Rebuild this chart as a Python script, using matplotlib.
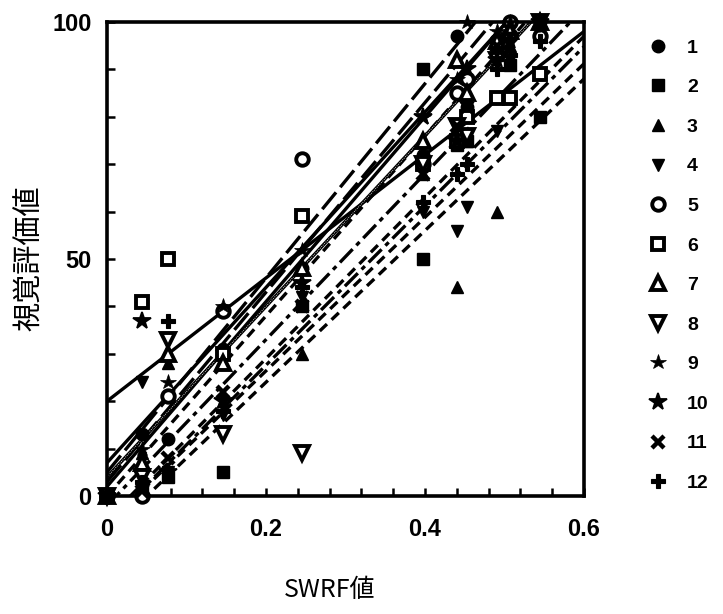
import numpy as np
import matplotlib
matplotlib.use("Agg")
import matplotlib.pyplot as plt
from matplotlib.ticker import MultipleLocator, FixedLocator, FuncFormatter

# ---------------- data ----------------
series_names = ["1", "2", "3", "4", "5", "6", "7", "8", "9", "10", "11", "12"]

x_common = [0, 0.044, 0.077, 0.146, 0.245, 0.398, 0.44, 0.453, 0.49, 0.507, 0.545]

y_s1 = [0, 13, 12, 31, 48, 72, 97, 82, 95, 100, 100]
y_s2 = [0, 2, 4, 5, 40, 90, 74, 75, 93, 91, 80]
y_s3 = [0, 9, 28, 20, 30, 68, 44, 75, 60, 95, 98]
y_s4 = [0, 24, 5, 17, 42, 60, 56, 61, 77, 92, 96]
y_s5 = [0, 0, 21, 39, 71, 70, 85, 88, 96, 100, 97]
y_s6 = [0, 41, 50, 30, 59, 70, 75, 80, 84, 84, 89]
y_s7 = [0, 7, 30, 28, 48, 75, 92, 85, 96, 98, 100]
y_s8 = [0, 4, 33, 13, 9, 70, 78, 76, 92, 96, 100]
y_s9 = [0, 10, 24, 40, 52, 80, 88, 100, 98, 100, 100]
y_s10 = [0, 37, 5, 20, 45, 80, 75, 90, 92, 96, 100]
y_s11 = [0, 1, 8, 22, 40, 68, 78, 82, 95, 97, 100]
y_s12 = [0, 3, 37, 18, 44, 62, 68, 70, 90, 93, 96]

# extra point of series 2 at x = 0.398
x_s2_extra = [0.398]
y_s2_extra = [50]

# regression lines (intercept, slope)
fit_intercept = [7, -8, -6, -6, 2, 20, 3, -2, 5, 0, 4, -5]
fit_slope = [185, 160, 162, 168, 195, 130, 200, 175, 205, 190, 180, 170]

x_ticks = [0, 0.2, 0.4, 0.6]
x_tick_labels = ["0", "0.2", "0.4", "0.6"]
y_ticks = [0, 50, 100]
y_tick_labels = ["0", "50", "100"]

# ---------------- styles ----------------
ys = [y_s1, y_s2, y_s3, y_s4, y_s5, y_s6, y_s7, y_s8, y_s9, y_s10, y_s11, y_s12]

marker_styles = [
    dict(marker="o", ms=9, mfc="black", mec="black", mew=1),
    dict(marker="s", ms=8.5, mfc="black", mec="black", mew=1),
    dict(marker="^", ms=9, mfc="black", mec="black", mew=1),
    dict(marker="v", ms=9, mfc="black", mec="black", mew=1),
    dict(marker="o", ms=9, mfc="white", mec="black", mew=2.8),
    dict(marker="s", ms=9, mfc="white", mec="black", mew=2.8),
    dict(marker="^", ms=9.5, mfc="white", mec="black", mew=2.8),
    dict(marker="v", ms=9.5, mfc="white", mec="black", mew=2.8),
    dict(marker="*", ms=11.5, mfc="black", mec="black", mew=0.5),
    dict(marker="*", ms=13, mfc="black", mec="black", mew=1.3),
    dict(marker="x", ms=9, mfc="black", mec="black", mew=3.2),
    dict(marker="P", ms=10, mfc="black", mec="black", mew=0.8),
]

dash_short = (0, (3.0, 1.9))
dash_long = (0, (6.5, 2.0))
dash_dot = (0, (5.5, 1.6, 1.4, 1.6))
line_styles = ["-", dash_short, dash_short, dash_dot, "-", "-",
               dash_long, dash_dot, dash_long, dash_short, "-", dash_short]

# ---------------- figure ----------------
W, H = 723, 614
fig = plt.figure(figsize=(W / 100, H / 100), dpi=100)
ax = fig.add_axes([107 / W, 1 - 496 / H, (584 - 107) / W, (496 - 22) / H])
ax.set_xlim(0, 0.6)
ax.set_ylim(0, 100)

# regression lines
xl = np.array([0.0, 0.6])
for i in range(12):
    yl = fit_intercept[i] + fit_slope[i] * xl
    ax.plot(xl, yl, color="black", lw=2.4, linestyle=line_styles[i],
            solid_capstyle="butt", zorder=2)
    if i == 10:
        ax.plot(xl, yl, color="white", lw=0.6, linestyle=(0, (1, 1.5)), zorder=2.1)

# scatter points
handles = []
for i in range(12):
    xs = list(x_common)
    yv = list(ys[i])
    if i == 1:
        xs = xs + x_s2_extra
        yv = yv + y_s2_extra
    h, = ax.plot(xs, yv, linestyle="none", clip_on=False, zorder=3,
                 **marker_styles[i])
    handles.append(h)

# spines and ticks
for sp in ax.spines.values():
    sp.set_linewidth(2.6)

ax.xaxis.set_major_locator(FixedLocator(x_ticks))
ax.xaxis.set_major_formatter(FuncFormatter(
    lambda v, p: x_tick_labels[x_ticks.index(round(v, 2))] if round(v, 2) in x_ticks else ""))
ax.xaxis.set_minor_locator(MultipleLocator(0.04))
ax.yaxis.set_major_locator(FixedLocator(y_ticks))
ax.yaxis.set_major_formatter(FuncFormatter(
    lambda v, p: y_tick_labels[y_ticks.index(int(round(v)))] if int(round(v)) in y_ticks else ""))
ax.yaxis.set_minor_locator(MultipleLocator(10))

ax.tick_params(axis="both", which="both", direction="in", width=1.8, length=6,
               top=False, right=False)
ax.tick_params(axis="x", which="major", pad=16)
ax.tick_params(axis="y", which="major", pad=11)
for lab in ax.get_xticklabels() + ax.get_yticklabels():
    lab.set_fontfamily(["Liberation Sans", "DejaVu Sans"])
    lab.set_fontweight("bold")
    lab.set_fontsize(17)

# axis titles
fig.text(30 / W, 1 - 258 / H, "視覚評価値", rotation=90, ha="center", va="center",
         fontsize=21, family=["Noto Sans CJK JP", "DejaVu Sans"])
fig.text(330 / W, 1 - 590 / H, "SWRF値", ha="center", va="center",
         fontsize=18, family=["Noto Sans CJK JP", "DejaVu Sans"])

# legend
leg = fig.legend(handles, series_names, loc="upper left",
                 bbox_to_anchor=(648 / W, 1 - 39 / H), frameon=False,
                 handlelength=1.0, handletextpad=1.0, borderpad=0,
                 labelspacing=1.13, borderaxespad=0,
                 prop=dict(family=["Liberation Sans", "DejaVu Sans"], weight="bold", size=14))

fig.savefig("out.png", dpi=100)
